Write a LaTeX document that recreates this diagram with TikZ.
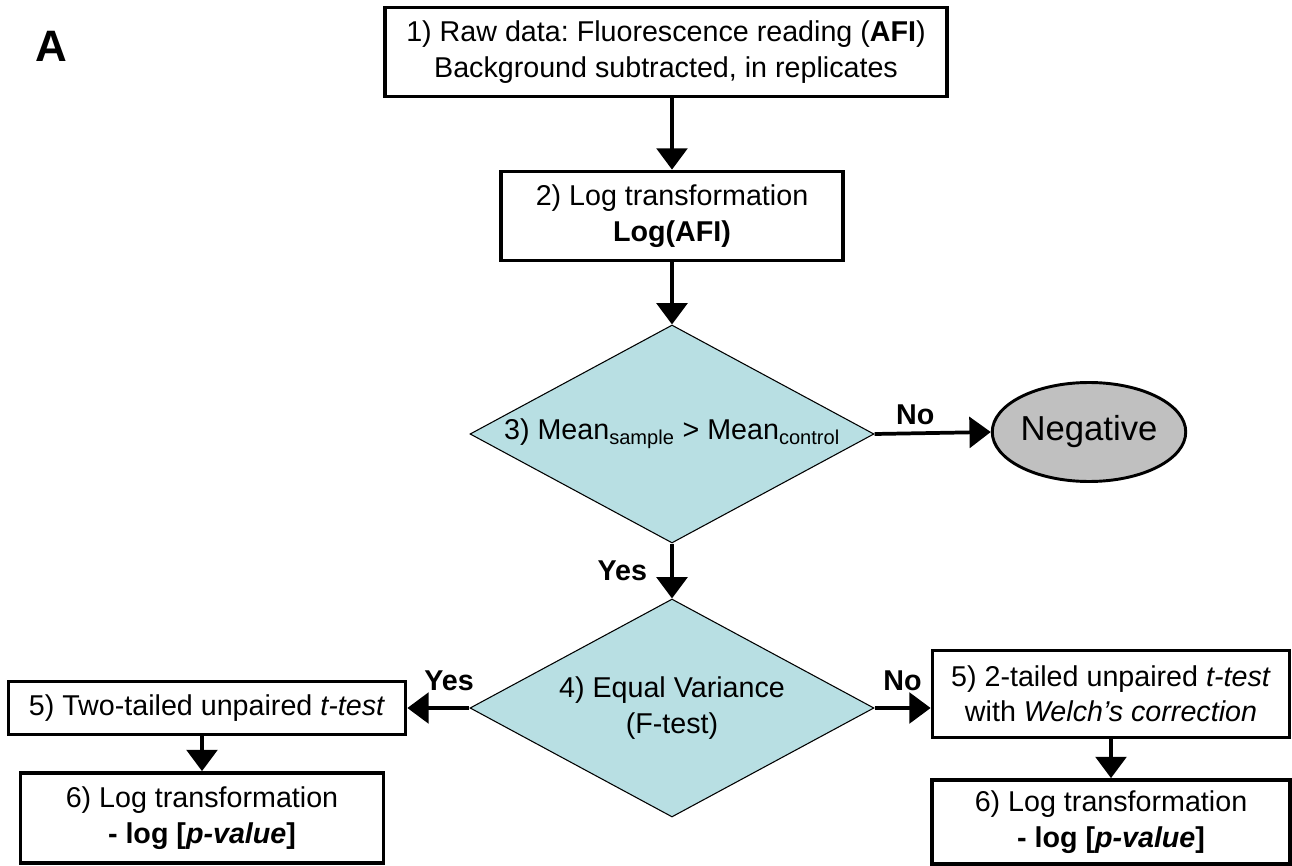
\documentclass[tikz,border=0pt]{standalone}
\usepackage{fontspec}
\setmainfont{Liberation Sans}
\usetikzlibrary{arrows.meta,shapes.geometric}
\definecolor{decision}{RGB}{184,223,227}
\definecolor{negfill}{RGB}{192,192,192}
\frenchspacing

\begin{document}
\begin{tikzpicture}[x=0.75pt,y=-0.75pt,
	every node/.style={font=\fontsize{21.5}{26.5}\selectfont},
	box/.style={draw,line width=2.8pt,align=center,inner sep=0pt},
	decide/.style={diamond,draw,line width=0.8pt,fill=decision,inner sep=0pt,aspect=1.85,align=center},
	arr/.style={line width=2.8pt,-{Triangle[length=16pt,width=23pt]}},
	lbl/.style={font=\fontsize{21.5}{25}\selectfont\bfseries}]
	\useasboundingbox (0,0) rectangle (1292,866);
	% panel letter
	\node[font=\fontsize{33}{38}\selectfont\bfseries] (panel) at (51,46) {A};
	% main column
	\node[box,minimum width=421.5pt,minimum height=66.75pt] (raw) at (666,52)
		{1) Raw data: Fluorescence reading (\textbf{AFI})\\Background subtracted, in replicates};
	\node[box,minimum width=256.5pt,minimum height=66.75pt] (logt) at (672,216)
		{2) Log transformation\\\textbf{Log(AFI)}};
	\node[decide,minimum width=303pt,minimum height=163.5pt] (mean) at (672,434)
		{3) Mean\textsubscript{sample} > Mean\textsubscript{control}};
	\node[ellipse,draw,line width=2.2pt,fill=negfill,inner sep=0pt,minimum width=123.75pt,minimum height=74.25pt,
		font=\fontsize{26}{30}\selectfont] (neg) at (1089,432) {Negative};
	\node[decide,minimum width=303pt,minimum height=163.5pt] (var) at (672,708)
		{4) Equal Variance\\(F-test)};
	% left branch
	\node[box,minimum width=297.75pt,minimum height=39.75pt] (ttest) at (207,708)
		{5) Two-tailed unpaired \textit{t-test}};
	\node[box,minimum width=272.25pt,minimum height=67.5pt] (logl) at (202,818)
		{6) Log transformation\\\textbf{- log [\textit{p-value}]}};
	% right branch
	\node[box,minimum width=267.75pt,minimum height=65.25pt] (welch) at (1111,694)
		{5) 2-tailed unpaired \textit{t-test}\\with \textit{Welch's correction}};
	\node[box,minimum width=268.5pt,minimum height=63pt] (logr) at (1111,822)
		{6) Log transformation\\\textbf{- log [\textit{p-value}]}};
	% connectors
	\draw[arr] (raw.south -| logt.north) -- (logt.north);
	\draw[arr] (logt.south) -- (mean.north);
	\draw[arr] (mean.east) -- node[lbl,above,pos=.35,yshift=2pt] (no1) {No} (neg.west);
	\draw[arr] (mean.south) -- node[lbl,left,xshift=-14pt] (yes1) {Yes} (var.north);
	\draw[arr] (var.west) -- node[lbl,above,yshift=8pt,xshift=8pt] (yes2) {Yes} (var.west -| ttest.east);
	\draw[arr] (var.east) -- node[lbl,above,yshift=8pt] (no2) {No} (var.east -| welch.west);
	\draw[arr] (ttest.south -| logl.north) -- (logl.north);
	\draw[arr] (welch.south) -- (logr.north);
\end{tikzpicture}
\end{document}
